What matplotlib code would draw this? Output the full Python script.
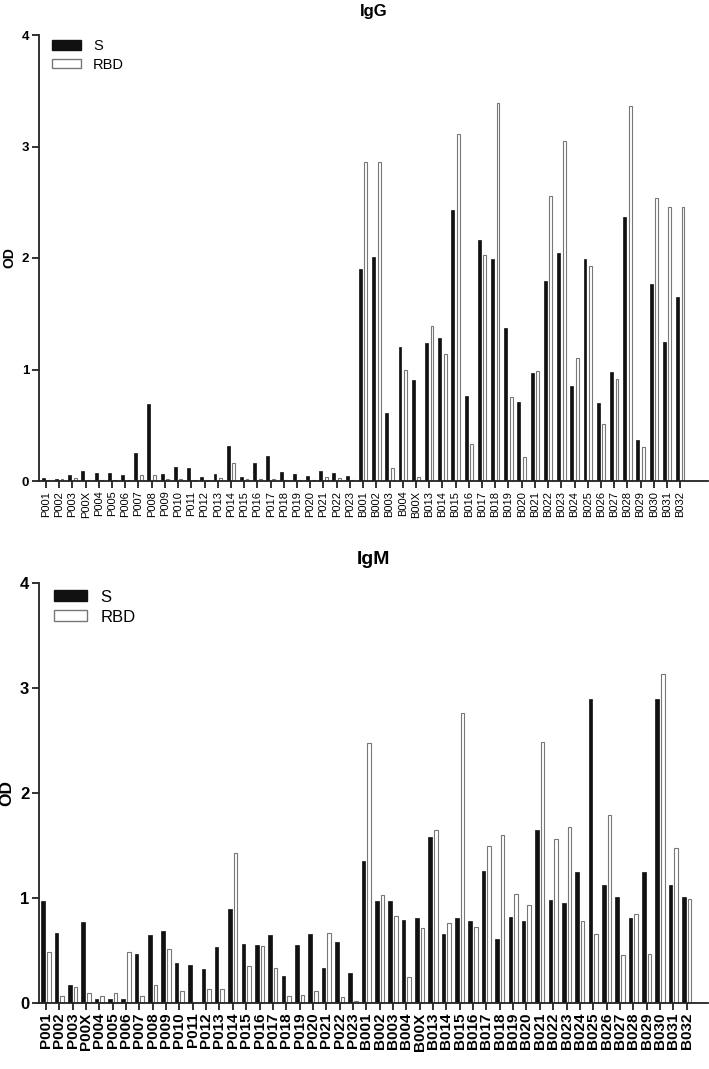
import numpy as np
import matplotlib
matplotlib.use("Agg")
import matplotlib.pyplot as plt
from matplotlib.patches import Patch

plt.rcParams['font.family'] = ['Liberation Sans', 'DejaVu Sans']

samples = ['P001', 'P002', 'P003', 'P00X', 'P004', 'P005', 'P006', 'P007', 'P008',
           'P009', 'P010', 'P011', 'P012', 'P013', 'P014', 'P015', 'P016', 'P017',
           'P018', 'P019', 'P020', 'P021', 'P022', 'P023',
           'B001', 'B002', 'B003', 'B004', 'B00X', 'B013', 'B014', 'B015', 'B016',
           'B017', 'B018', 'B019', 'B020', 'B021', 'B022', 'B023', 'B024', 'B025',
           'B026', 'B027', 'B028', 'B029', 'B030', 'B031', 'B032']

igg_s = [0.03, 0.02, 0.05, 0.09, 0.07, 0.07, 0.055, 0.25, 0.69, 0.065, 0.13, 0.12,
         0.04, 0.06, 0.315, 0.035, 0.16, 0.22, 0.08, 0.06, 0.045, 0.09, 0.075, 0.045,
         1.90, 2.01, 0.61, 1.20, 0.91, 1.24, 1.28, 2.43, 0.765, 2.16, 1.99, 1.37,
         0.71, 0.965, 1.79, 2.045, 0.85, 1.99, 0.70, 0.975, 2.37, 0.365, 1.77, 1.245, 1.65]
igg_rbd = [0.01, 0.02, 0.025, 0.01, 0.01, 0.01, 0.01, 0.05, 0.05, 0.02, 0.02, 0.005,
           0.01, 0.03, 0.16, 0.02, 0.02, 0.02, 0.005, 0.01, 0.005, 0.035, 0.025, 0.01,
           2.865, 2.86, 0.12, 1.00, 0.035, 1.39, 1.14, 3.11, 0.33, 2.03, 3.39, 0.75,
           0.215, 0.985, 2.555, 3.05, 1.10, 1.93, 0.515, 0.915, 3.36, 0.305, 2.54, 2.46, 2.46]

igm_s = [0.975, 0.67, 0.167, 0.77, 0.04, 0.04, 0.04, 0.47, 0.65, 0.685, 0.385, 0.36,
         0.32, 0.53, 0.90, 0.565, 0.557, 0.645, 0.26, 0.55, 0.657, 0.335, 0.58, 0.29,
         1.35, 0.97, 0.97, 0.795, 0.81, 1.585, 0.66, 0.81, 0.78, 1.26, 0.607, 0.815,
         0.78, 1.645, 0.98, 0.953, 1.25, 2.896, 1.125, 1.01, 0.81, 1.25, 2.896, 1.125, 1.01]
igm_rbd = [0.49, 0.07, 0.155, 0.10, 0.07, 0.10, 0.49, 0.065, 0.175, 0.51, 0.11, -0.03,
           0.13, 0.135, 1.425, 0.35, 0.54, 0.335, 0.063, 0.075, 0.115, 0.667, 0.053, 0.02,
           2.48, 1.03, 0.83, 0.25, 0.71, 1.65, 0.765, 2.76, 0.72, 1.50, 1.60, 1.04,
           0.93, 2.49, 1.566, 1.68, 0.78, 0.657, 1.79, 0.456, 0.85, 0.47, 3.13, 1.475, 0.994]

W, H = 709, 1069
fig = plt.figure(figsize=(W / 100, H / 100), dpi=100)


def panel(rect, s_vals, rbd_vals, title, xlim, bw, off, xfs, xbold, yfs, lfs, tfs):
    ax = fig.add_axes(rect)
    x = np.arange(len(samples))
    ax.bar(x - off, s_vals, width=bw, color='#111111', edgecolor='#111111', linewidth=0.5)
    ax.bar(x + off, rbd_vals, width=bw, color='white', edgecolor='#777777', linewidth=0.8)
    ax.set_xlim(*xlim)
    ax.set_ylim(0, 4)
    ax.set_yticks([0, 1, 2, 3, 4])
    ax.set_xticks(x)
    ax.set_xticklabels(samples, rotation=90, fontsize=xfs,
                       fontweight='bold' if xbold else 'normal')
    for lab in ax.get_yticklabels():
        lab.set_fontweight('bold')
        lab.set_fontsize(yfs)
    ax.spines['top'].set_visible(False)
    ax.spines['right'].set_visible(False)
    for sp in ('left', 'bottom'):
        ax.spines[sp].set_linewidth(1.3)
        ax.spines[sp].set_color('#222222')
    ax.tick_params(axis='both', length=5, width=1.3, color='#222222', pad=2)
    ax.set_ylabel('OD', fontweight='bold', fontsize=yfs + 0.5, labelpad=4)
    ax.set_title(title, fontweight='bold', fontsize=tfs, pad=14)
    handles = [Patch(facecolor='#111111', edgecolor='#111111', label='S'),
               Patch(facecolor='white', edgecolor='#777777', label='RBD')]
    ax.legend(handles=handles, loc='upper left', bbox_to_anchor=(0.0, 1.02),
              frameon=False, fontsize=lfs, handlelength=2.0, handleheight=0.6,
              labelspacing=0.3, borderaxespad=0.5)
    return ax


panel([39 / W, 588 / H, 669 / W, 446 / H], igg_s, igg_rbd, 'IgG',
      (-0.53, 50.1), 0.22, 0.21, 8, False, 9.5, 10.5, 12)
panel([39 / W, 66 / H, 669 / W, 420 / H], igm_s, igm_rbd, 'IgM',
      (-0.52, 49.6), 0.27, 0.21, 11, True, 12, 12, 14)

fig.savefig('out.png', dpi=100)
